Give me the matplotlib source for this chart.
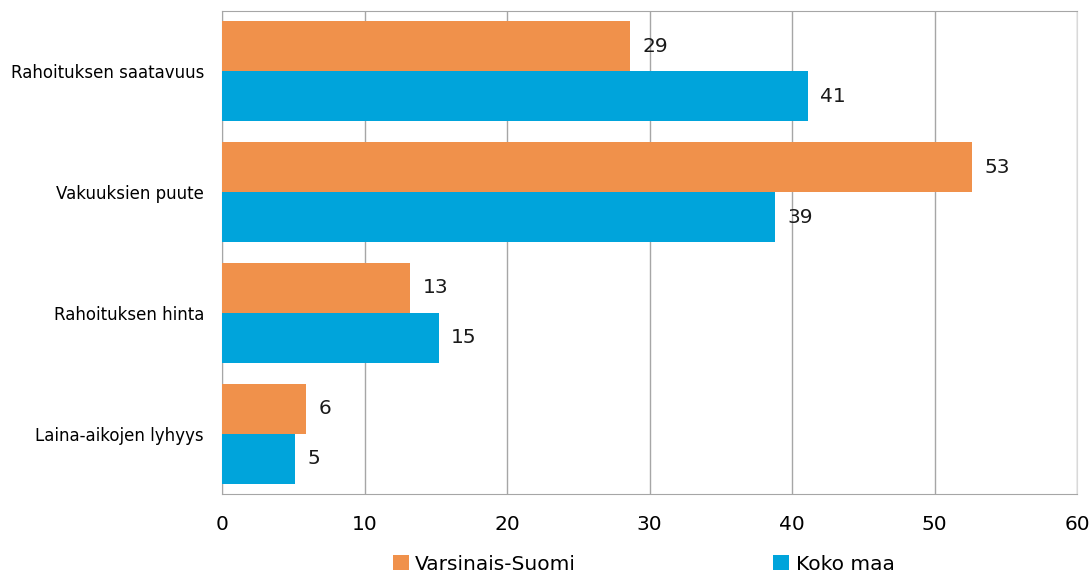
import numpy as np
import matplotlib
matplotlib.use('Agg')
import matplotlib.pyplot as plt
from matplotlib.patches import Patch

ORANGE = '#F0914B'
BLUE = '#00A4DB'

CATEGORIES = ['Rahoituksen saatavuus', 'Vakuuksien puute',
              'Rahoituksen hinta', 'Laina-aikojen lyhyys']
VARSINAIS_SUOMI = [28.6, 52.6, 13.2, 5.9]
KOKO_MAA = [41.1, 38.8, 15.2, 5.1]
SERIES_NAMES = ['Varsinais-Suomi', 'Koko maa']

plt.rcParams['font.family'] = ['DejaVu Sans']

fig = plt.figure(figsize=(10.91, 5.73), dpi=100)
ax = fig.add_axes([222 / 1091, 1 - 494 / 573, 855 / 1091, 483 / 573])

n = len(CATEGORIES)
y = np.arange(n)
h = 0.414

bars_vs = ax.barh(y - h / 2, VARSINAIS_SUOMI, height=h, color=ORANGE, zorder=3)
bars_km = ax.barh(y + h / 2, KOKO_MAA, height=h, color=BLUE, zorder=3)

for bars in (bars_vs, bars_km):
    for b in bars:
        v = b.get_width()
        ax.annotate(f'{round(v):d}', (v, b.get_y() + b.get_height() / 2),
                    xytext=(9, 0), textcoords='offset points',
                    va='center', ha='left', fontsize=14.5, color='#1a1a1a')

ax.set_xlim(0, 60)
ax.set_ylim(n - 0.5, -0.5)
ax.set_xticks(np.arange(0, 61, 10))
ax.set_yticks(y)
ax.set_yticklabels(CATEGORIES, fontsize=12)
ax.tick_params(axis='x', labelsize=14.5, length=0, pad=15)
ax.tick_params(axis='y', length=0, pad=13)
ax.grid(axis='x', color='#a6a6a6', linewidth=1, zorder=0)

for side in ['top', 'bottom', 'left']:
    ax.spines[side].set_color('#a6a6a6')
ax.spines['right'].set_color('#d9d9d9')

handles = [Patch(facecolor=ORANGE, label=SERIES_NAMES[0]),
           Patch(facecolor=BLUE, label=SERIES_NAMES[1])]
fig.legend(handles=handles, loc='center', bbox_to_anchor=(0.59, 1 - 564 / 573),
           ncol=2, frameon=False, fontsize=14.5, handlelength=0.8, handleheight=0.8,
           handletextpad=0.3, columnspacing=9.8)

fig.savefig('out.png', dpi=100)
